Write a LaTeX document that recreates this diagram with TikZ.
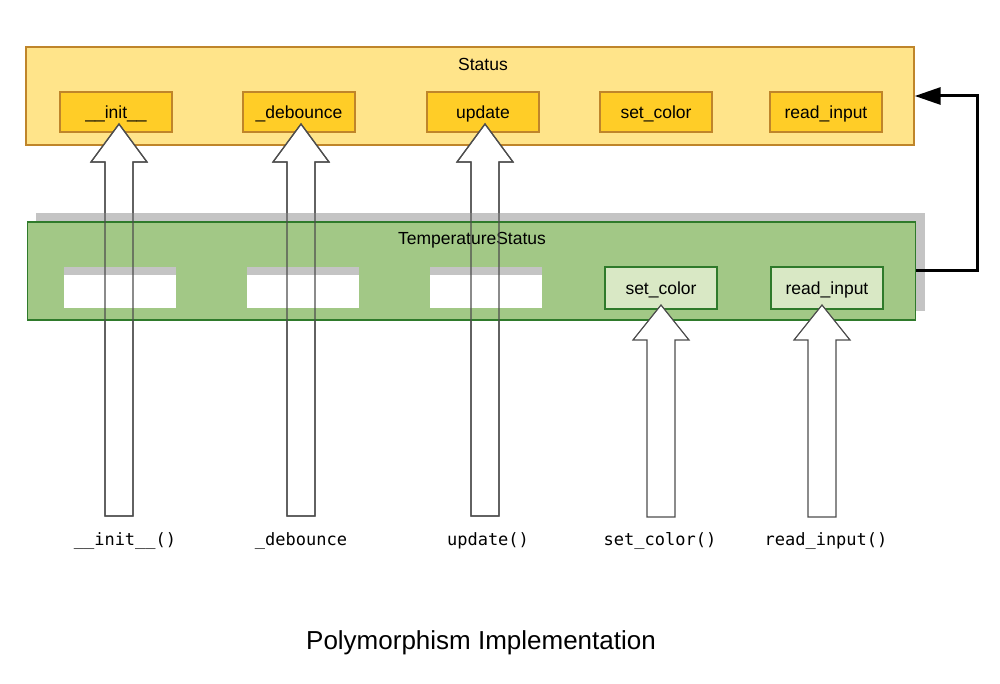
\documentclass[tikz,border=0pt]{standalone}
\usepackage{fontspec}
\setmainfont{Liberation Sans}
\setmonofont{DejaVu Sans Mono}
\usetikzlibrary{arrows.meta}
\definecolor{yOuter}{HTML}{FFE48A}
\definecolor{yInner}{HTML}{FFCD27}
\definecolor{yLine}{HTML}{BF852A}
\definecolor{gOuter}{HTML}{A2C886}
\definecolor{gInner}{HTML}{D9E8C5}
\definecolor{gLine}{HTML}{2F7A2B}
\definecolor{shadowgray}{HTML}{C4C4C4}
\definecolor{arrowLine}{HTML}{4D4D4D}
\newcommand\BArrow[4]{(#1-14,#4) -- (#1-14,#3) -- (#1-28,#3) -- (#1,#2) -- (#1+28,#3) -- (#1+14,#3) -- (#1+14,#4) -- cycle}
\tikzset{
  lbl/.style={font=\fontsize{17.5}{20}\selectfont, inner sep=0},
  outerbox/.style={minimum width=888pt, minimum height=98pt, inner sep=0, line width=1.4pt},
  innerbox/.style={minimum width=112pt, minimum height=40pt, inner sep=0, line width=1.2pt,
    text height=13.5pt, text depth=0pt, font=\fontsize{17.5}{20}\selectfont},
  ybox/.style={innerbox, fill=yInner, draw=yLine},
  gbox/.style={innerbox, fill=gInner, draw=gLine, minimum height=42pt},
  blockfill/.style={fill=white, draw=arrowLine, line width=1.2pt, line join=miter},
  blockline/.style={draw=arrowLine, line width=1.2pt, line join=miter},
  codelbl/.style={font=\fontsize{17}{20}\selectfont\ttfamily, inner sep=0},
}
\begin{document}
\begin{tikzpicture}[x=1pt, y=-1pt]
\useasboundingbox[fill=white] (0,0) rectangle (1000,684);
% Status class
\node[outerbox, fill=yOuter, draw=yLine] (status) at (470,96) {};
\node[lbl] (statustitle) at (483,64) {Status};
\node[ybox] (sinit) at (116,112) {\_\_init\_\_};
\node[ybox] (sdeb) at (299,112) {\_debounce};
\node[ybox] (supd) at (483,112) {update};
\node[ybox] (scol) at (656,112) {set\_color};
\node[ybox] (sread) at (826,112) {read\_input};
% left block arrows (fill below the subclass box)
\path[blockfill] \BArrow{119}{124}{162}{516};
\path[blockfill] \BArrow{301}{124}{162}{516};
\path[blockfill] \BArrow{485}{124}{162}{516};
% TemperatureStatus class
\fill[shadowgray] (36,213) rectangle (925,311);
\node[outerbox, fill=gOuter, draw=gLine] (temp) at (471.5,271) {};
\node[lbl] (temptitle) at (472,240.5) {TemperatureStatus};
\foreach \cx/\nm in {120/tinit, 303/tdeb, 486/tupd}{
  \fill[white] (\cx-56,267) rectangle (\cx+56,308);
  \fill[shadowgray] (\cx-56,267) rectangle (\cx+56,275.5);
  \coordinate (\nm) at (\cx,288);
}
\node[gbox] (tcol) at (661,288) {set\_color};
\node[gbox] (tread) at (827,288) {read\_input};
% outlines of left block arrows over the subclass box
\path[blockline] \BArrow{119}{124}{162}{516};
\path[blockline] \BArrow{301}{124}{162}{516};
\path[blockline] \BArrow{485}{124}{162}{516};
% right block arrows
\path[blockfill] \BArrow{661}{305}{340}{517};
\path[blockfill] \BArrow{822}{305}{340}{517};
% inheritance connector
\draw[line width=3pt, -{Triangle[length=26pt, width=17pt]}] (temp.east) -- ++(61,0) |- (status.east);
% call labels
\node[codelbl] (cinit) at (125,541) {\_\_init\_\_()};
\node[codelbl] (cdeb) at (301,541) {\_debounce};
\node[codelbl] (cupd) at (488,541) {update()};
\node[codelbl] (ccol) at (660,541) {set\_color()};
\node[codelbl] (cread) at (826,541) {read\_input()};
% caption
\node[font=\fontsize{26}{30}\selectfont, inner sep=0] (caption) at (481,642.5) {Polymorphism Implementation};
\end{tikzpicture}
\end{document}
